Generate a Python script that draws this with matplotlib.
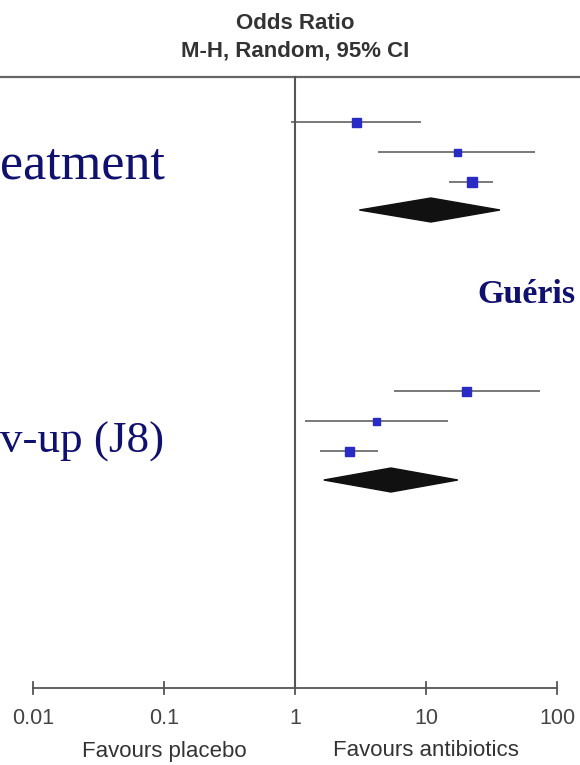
import matplotlib
matplotlib.use("Agg")
import matplotlib.pyplot as plt
from matplotlib.patches import Polygon

# odds ratios (estimate, low, high)
or1 = [2.9, 17.3, 22.4]
lo1 = [0.93, 4.3, 15.0]
hi1 = [9.2, 67.7, 32.4]
pooled1 = [10.9, 3.1, 36.7]

or2 = [20.2, 4.15, 2.58]
lo2 = [5.7, 1.19, 1.55]
hi2 = [74.3, 14.7, 4.3]
pooled2 = [5.4, 1.66, 17.5]

sq1 = [9, 7, 10]
sq2 = [9, 7, 9]

ticks = [0.01, 0.1, 1, 10, 100]
tick_labels = ["0.01", "0.1", "1", "10", "100"]

W, H = 580, 765
fig = plt.figure(figsize=(W / 100, H / 100), dpi=100)
ax = fig.add_axes([0, 0, 1, 1])
ax.set_xscale("log")
dec = 131.0
ax.set_xlim(10 ** (-2 - 33 / dec), 10 ** (2 + (W - 557) / dec))
ax.set_ylim(H, 0)
ax.axis("off")

grey = "#555555"
blue = "#2a2ac4"

def px(x):
    # figure pixel -> data x
    return 10 ** (-2 + (x - 33) / dec)

# header
ax.text(1, 23, "Odds Ratio", ha="center", va="center", fontsize=16,
        fontweight="bold", color="#333333", family="Liberation Sans")
ax.text(1, 51, "M-H, Random, 95% CI", ha="center", va="center", fontsize=16,
        fontweight="bold", color="#333333", family="Liberation Sans")
ax.axhline(77, color="#666666", lw=1.6)
ax.plot([1, 1], [77, 688], color=grey, lw=1.5)

def draw_group(est, lo, hi, sizes, pooled, y0, ydia):
    for i in range(len(est)):
        y = y0 + 30 * i
        ax.plot([lo[i], hi[i]], [y, y], color=grey, lw=1.1, solid_capstyle="butt")
        ax.plot(est[i], y, marker="s", ms=sizes[i] * 0.72, color=blue, mec=blue)
    e, l, h = pooled
    ax.add_patch(Polygon([(l, ydia), (e, ydia - 12), (h, ydia), (e, ydia + 12)],
                         closed=True, color="#111111"))

draw_group(or1, lo1, hi1, sq1, pooled1, 122, 210)
draw_group(or2, lo2, hi2, sq2, pooled2, 391, 480)

# bottom axis
ax.plot([ticks[0], ticks[-1]], [688, 688], color=grey, lw=1.3)
for t, lab in zip(ticks, tick_labels):
    ax.plot([t, t], [682, 694], color=grey, lw=1.3)
    ax.text(t, 718, lab, ha="center", va="center", fontsize=15.5,
            color="#444444", family="Liberation Sans")
ax.text(0.1, 751, "Favours placebo", ha="center", va="center", fontsize=16,
        color="#333333", family="Liberation Sans")
ax.text(10, 751, "Favours antibiotics", ha="center", va="center", fontsize=16,
        color="#333333", family="Liberation Sans")

# slide text overlaid (only the part visible in the crop)
navy = "#10106e"
ax.text(px(0), 178, "eatment", ha="left",
        va="baseline", fontsize=37.5, color=navy, family="Liberation Serif")
ax.text(px(0), 453, "v-up (J8)", ha="left",
        va="baseline", fontsize=32.5, color=navy, family="Liberation Serif")
ax.text(px(477), 303, "Guéris", ha="left",
        va="baseline", fontsize=24.5, fontweight="bold", color=navy,
        family="Liberation Serif")

fig.savefig("out.png", dpi=100)
